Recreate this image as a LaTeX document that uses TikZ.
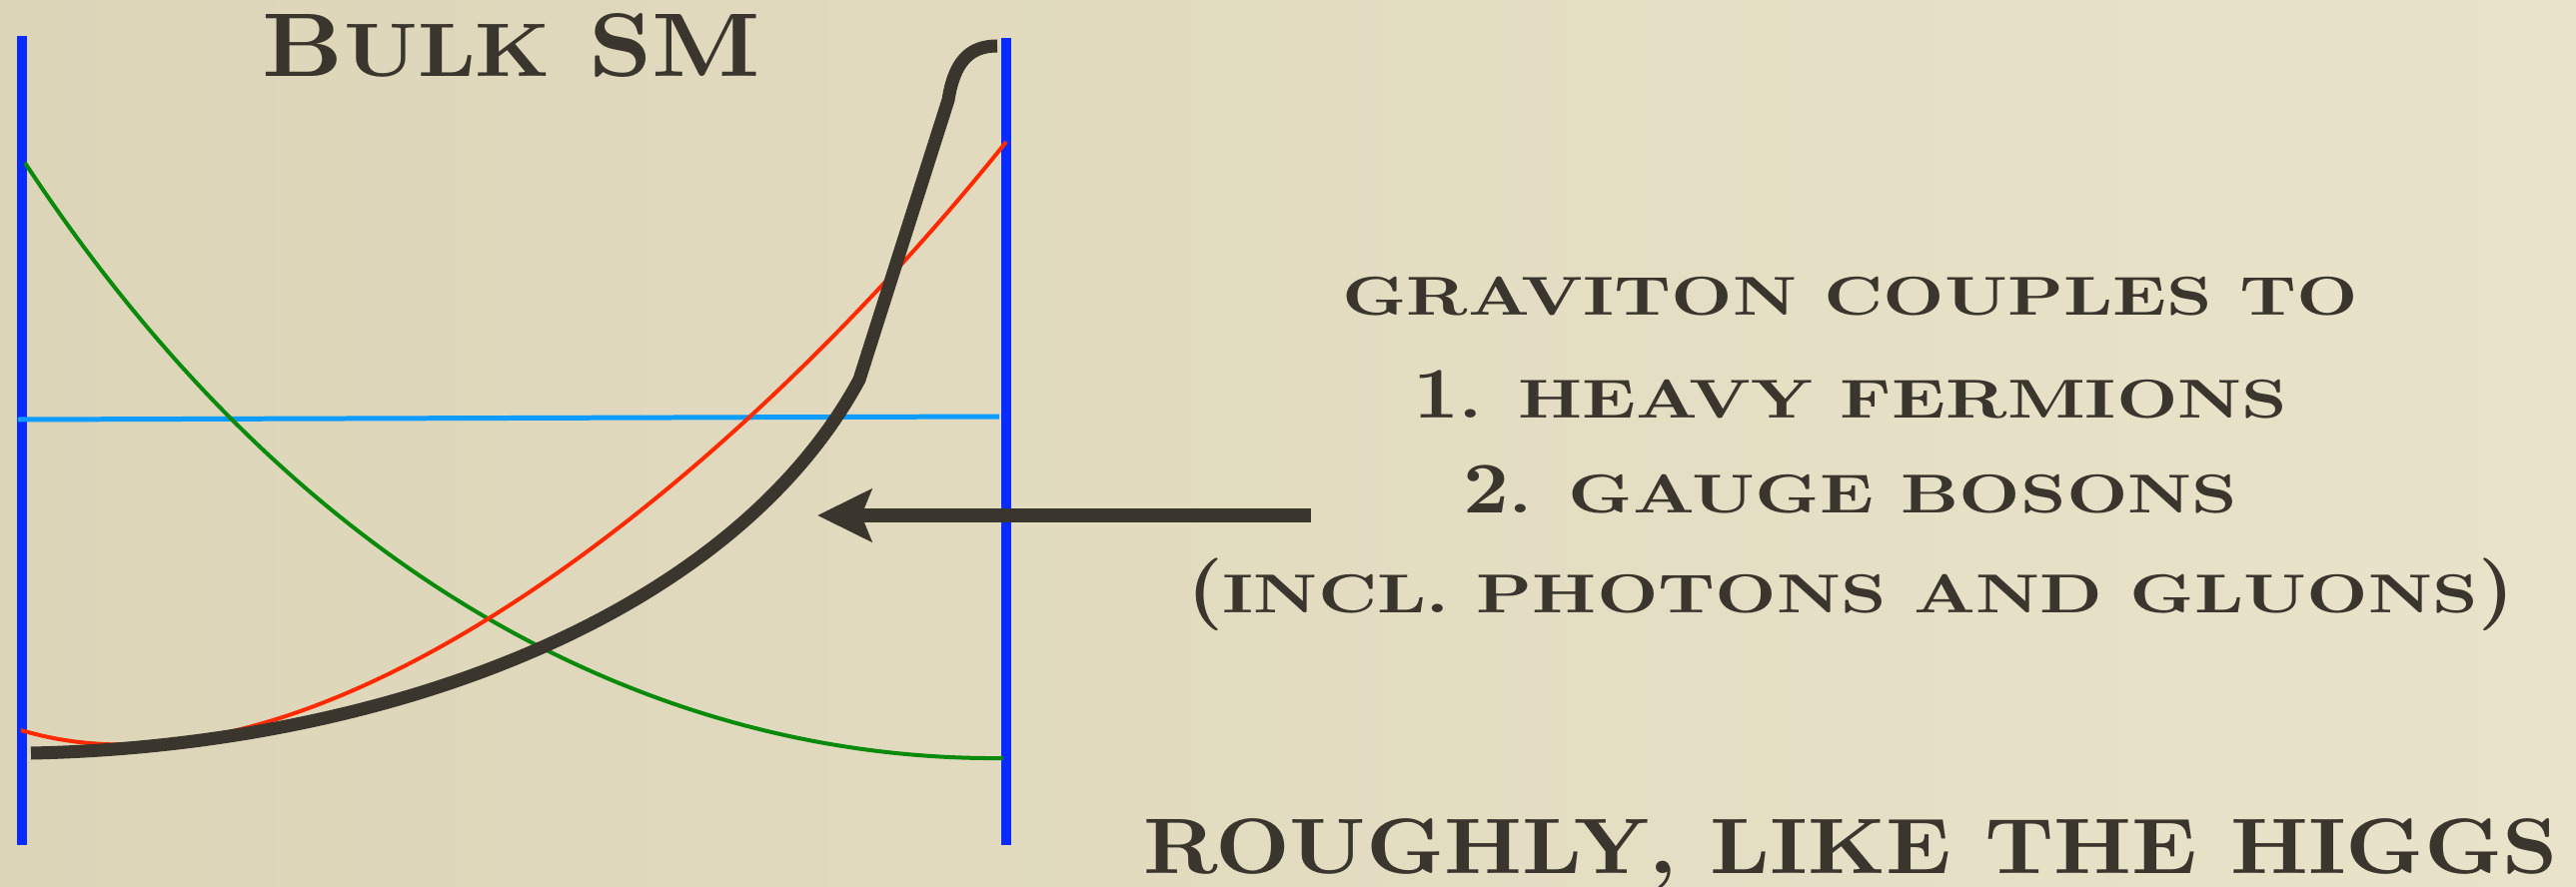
\documentclass[tikz,border=0pt]{standalone}
\usepackage{fontspec}
\newfontfamily\slidefont[FakeStretch=1.1]{lmroman10-bold.otf}
\newfontfamily\widefont[FakeStretch=1.3]{lmroman10-bold.otf}
\usetikzlibrary{arrows.meta, positioning}
\definecolor{paper}{HTML}{E8E3CA}
\definecolor{paperdark}{HTML}{DDD5B8}
\definecolor{ink}{HTML}{3A352D}
\definecolor{wallblue}{HTML}{0A2BFF}
\definecolor{flatblue}{HTML}{0E9CFF}
\definecolor{redmode}{HTML}{FF2A00}
\definecolor{greenmode}{HTML}{0A8A0A}
\newcommand\sml[1]{{\widefont\fontsize{15.6}{18}\selectfont #1}}
\newcommand\tsc[1]{{\fontsize{21.6}{26}\selectfont #1}}
\tikzset{txt/.style={anchor=base,inner sep=0pt,text=ink,font=\slidefont\fontsize{20.7}{24}\selectfont},heading/.style={txt,font=\slidefont\fontsize{25.7}{30}\selectfont},wall/.style={wallblue,line width=2.85pt},flat/.style={flatblue,line width=1.42pt},mode/.style={line width=1.14pt},graviton/.style={ink,line width=3.7pt,line join=round},pointer/.style={-{Stealth[length=5.4mm,width=5.2mm,inset=1mm]},ink,line width=3.7pt}}

\begin{document}
\begin{tikzpicture}[x=0.01cm,y=-0.01cm]
\shade[left color=paperdark,right color=paper] (0,0) rectangle (2578,888);
\useasboundingbox (0,0) rectangle (2578,888);
% branes
\draw[wall] (22,36) -- (22,846);
\draw[wall] (1007,38) -- (1007,846);
% profiles in the bulk
\draw[flat] (18,420) -- (1000,417);
\draw[mode,greenmode] (25,163) .. controls (325,619) and (700,762) .. (1004,759);
\draw[mode,redmode] (21,731) .. controls (321,821) and (740,475) .. (1007,142);
\draw[graviton] (31,754) .. controls (381,747) and (730,620) .. (860,380) -- (949,100) .. controls (955,62) and (970,46) .. (998,46);
% labels
\node[heading] (bulk) at (512,77) {B\tsc{ULK} SM};
\node[txt] (couples) at (1852,315) {\sml{GRAVITON COUPLES TO}};
\node[txt] (fermions) at (1852,418) {1\sml{. HEAVY FERMIONS}};
\node[txt] (bosons) at (1852,513) {2\sml{. GAUGE BOSONS}};
\node[txt] (incl) at (1852,613) {(\sml{INCL. PHOTONS AND GLUONS})};
\node[txt,font=\slidefont\fontsize{22.4}{26}\selectfont] (higgs) at (1852,874) {ROUGHLY, LIKE THE HIGGS};
\coordinate (arrowtail) at (1312,516);
\coordinate (arrowtip) at (818,516);
\draw[pointer] (arrowtail) -- (arrowtip);
\end{tikzpicture}
\end{document}
